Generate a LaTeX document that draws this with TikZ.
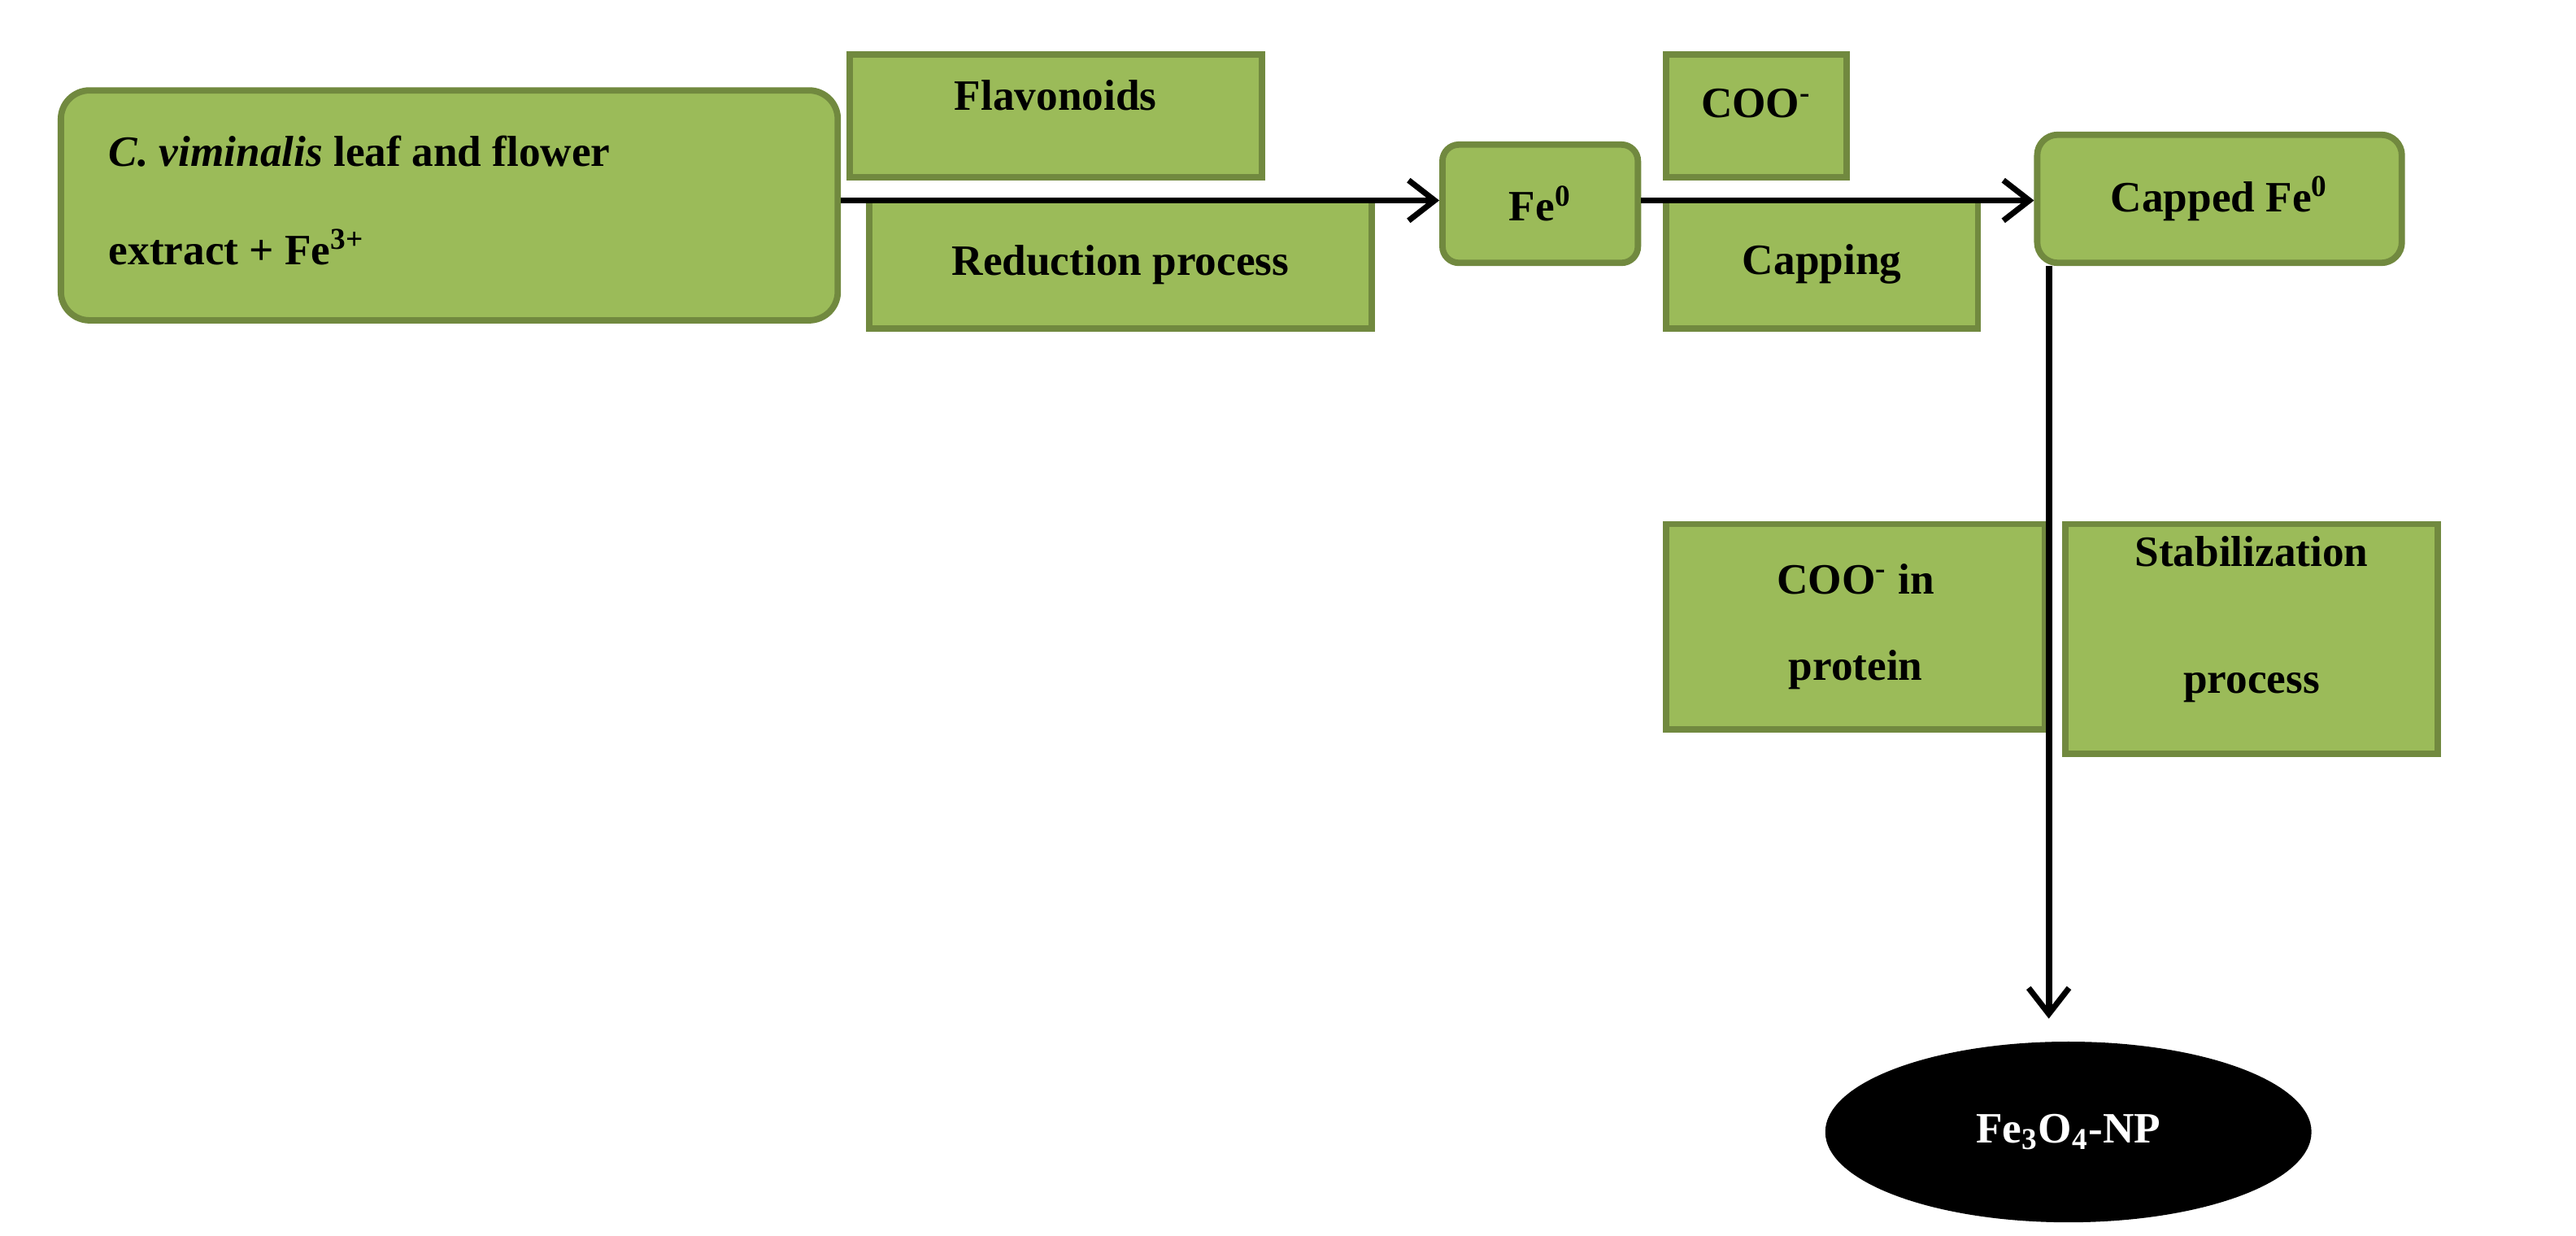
\documentclass[tikz,border=0pt]{standalone}
\usepackage{fontspec}
\setmainfont{Liberation Serif}
\usetikzlibrary{shapes.geometric,arrows.meta,calc}
\definecolor{gfill}{HTML}{9BBB59}
\definecolor{gdraw}{HTML}{71893F}
\begin{document}
\begin{tikzpicture}[x=0.02cm,y=-0.02cm,
  box/.style={draw=gdraw,fill=gfill,line width=2.2pt,inner sep=0pt,align=center,font=\fontsize{15}{24}\selectfont\bfseries},
  rbox/.style={box,rounded corners=0.35cm},
  arr/.style={line width=2.2pt,-{Straight Barb[length=9pt,width=14pt,line width=2pt]}}]
\useasboundingbox (0,0) rectangle (1568,752);
\node[rbox,minimum width=9.46cm,minimum height=2.8cm] (main) at (273.5,125) {};
\node[anchor=west,font=\fontsize{15}{34}\selectfont\bfseries,align=left] (maintext) at (60,122)
  {\textit{C. viminalis} leaf and flower\\extract + Fe\textsuperscript{3+}};
\node[box,minimum width=5.02cm,minimum height=1.5cm,text depth=0.5cm] (flav) at (642.5,70.5) {Flavonoids};
\node[box,minimum width=6.12cm,minimum height=1.56cm] (red) at (682,161) {Reduction process};
\node[rbox,minimum width=2.38cm,minimum height=1.44cm,rounded corners=0.2cm] (fe) at (937.5,124) {Fe\textsuperscript{0}};
\node[box,minimum width=2.2cm,minimum height=1.5cm,text depth=0.3cm] (coo) at (1069,70.5) {COO\textsuperscript{-}};
\node[box,minimum width=3.8cm,minimum height=1.56cm] (cap) at (1109,161) {Capping};
\node[rbox,minimum width=4.44cm,minimum height=1.56cm,rounded corners=0.25cm] (capped) at (1351,121) {Capped Fe\textsuperscript{0}};
\node[box,minimum width=4.62cm,minimum height=2.5cm,font=\fontsize{15}{30}\selectfont\bfseries] (prot) at (1129.5,381.5) {COO\textsuperscript{-} in\\protein};
\node[box,minimum width=4.54cm,minimum height=2.8cm,font=\fontsize{15}{44}\selectfont\bfseries,text depth=0.6cm] (stab) at (1370.5,389) {Stabilization\\process};
\node[ellipse,fill=black,minimum width=5.92cm,minimum height=2.2cm,inner sep=0pt,text=white,font=\fontsize{15}{18}\selectfont\bfseries] (np) at (1259,689) {Fe\textsubscript{3}O\textsubscript{4}-NP};
\draw[arr] (main.east |- 0,122) -- (fe.west |- 0,122);
\draw[arr] (fe.east |- 0,122) -- (capped.west |- 0,122);
\coordinate (vtop) at ($(capped.south west)+(9,0)$);
\draw[arr] (vtop) -- (vtop |- 0,620);
\end{tikzpicture}
\end{document}
